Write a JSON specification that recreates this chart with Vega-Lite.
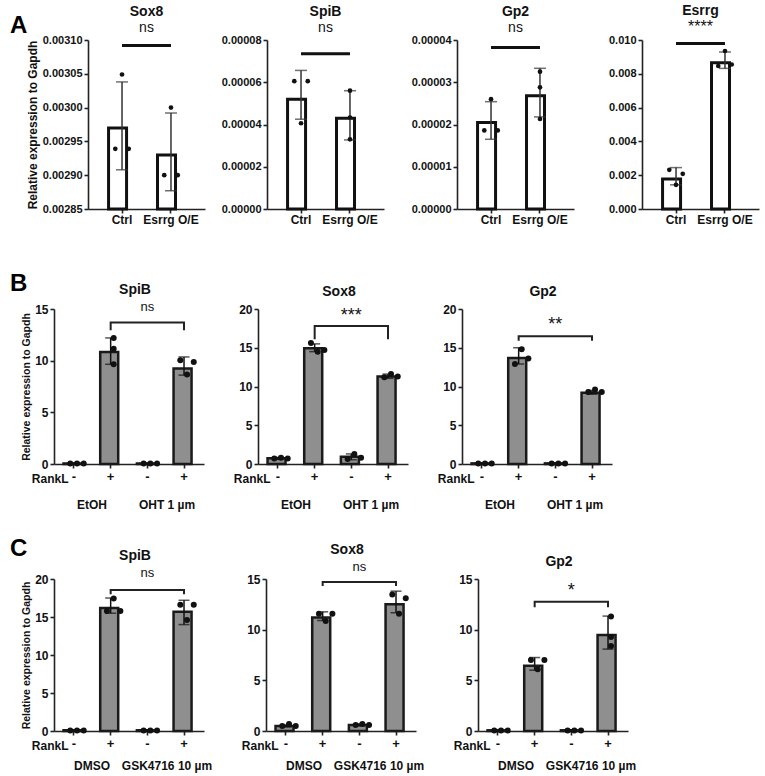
{
  "$schema": "https://vega.github.io/schema/vega-lite/v6.json",
  "padding": {"left": 7, "top": 4, "right": 2, "bottom": 2},
  "background": "white",
  "config": {
    "font": "Liberation Sans",
    "view": {"stroke": null},
    "axis": {"grid": false, "labelOverlap": false, "labelFont": "Liberation Sans", "labelFontWeight": "bold", "labelFontSize": 11, "labelColor": "#111111", "domainColor": "#222222", "domainWidth": 1.6, "tickColor": "#222222", "tickWidth": 1.6, "tickSize": 4, "labelPadding": 2, "titleFont": "Liberation Sans", "titleFontWeight": "bold", "titleColor": "#111111"},
    "axisX": {"labelAngle": 0, "labelFontSize": 12},
    "title": {"font": "Liberation Sans Narrow, Liberation Sans", "fontSize": 14, "fontWeight": "bold", "color": "#111111", "anchor": "middle", "frame": "group", "subtitleFont": "Liberation Sans", "subtitleFontSize": 14, "subtitleColor": "#111111"}
  },
  "datasets": {
    "bars": [
      {"p": "A1", "cond": "Ctrl", "mean": 0.00297, "lo": 0.002908, "hi": 0.003038},
      {"p": "A1", "cond": "Esrrg O/E", "mean": 0.00293, "lo": 0.002877, "hi": 0.002992},
      {"p": "A2", "cond": "Ctrl", "mean": 0.000052, "lo": 0.0000425, "hi": 0.0000656},
      {"p": "A2", "cond": "Esrrg O/E", "mean": 0.0000429, "lo": 0.0000327, "hi": 0.000056},
      {"p": "A3", "cond": "Ctrl", "mean": 0.0000205, "lo": 0.0000165, "hi": 0.0000254},
      {"p": "A3", "cond": "Esrrg O/E", "mean": 0.0000268, "lo": 0.0000218, "hi": 0.0000333},
      {"p": "A4", "cond": "Ctrl", "mean": 0.00178, "lo": 0.00143, "hi": 0.00245},
      {"p": "A4", "cond": "Esrrg O/E", "mean": 0.00865, "lo": 0.00832, "hi": 0.00929},
      {"p": "B1", "cond": "EtOH -", "mean": 0.05, "lo": 0.02, "hi": 0.08},
      {"p": "B1", "cond": "EtOH +", "mean": 10.84, "lo": 9.65, "hi": 12.2},
      {"p": "B1", "cond": "OHT 1 µm -", "mean": 0.05, "lo": 0.02, "hi": 0.08},
      {"p": "B1", "cond": "OHT 1 µm +", "mean": 9.23, "lo": 8.6, "hi": 10.36},
      {"p": "B2", "cond": "EtOH -", "mean": 0.73, "lo": 0.6, "hi": 0.85},
      {"p": "B2", "cond": "EtOH +", "mean": 14.93, "lo": 14.5, "hi": 15.5},
      {"p": "B2", "cond": "OHT 1 µm -", "mean": 0.92, "lo": 0.55, "hi": 1.3},
      {"p": "B2", "cond": "OHT 1 µm +", "mean": 11.3, "lo": 11.05, "hi": 11.6},
      {"p": "B3", "cond": "EtOH -", "mean": 0.08, "lo": 0.05, "hi": 0.11},
      {"p": "B3", "cond": "EtOH +", "mean": 13.68, "lo": 12.9, "hi": 15.0},
      {"p": "B3", "cond": "OHT 1 µm -", "mean": 0.08, "lo": 0.05, "hi": 0.11},
      {"p": "B3", "cond": "OHT 1 µm +", "mean": 9.2, "lo": 9.0, "hi": 9.5},
      {"p": "C1", "cond": "DMSO -", "mean": 0.1, "lo": 0.05, "hi": 0.15},
      {"p": "C1", "cond": "DMSO +", "mean": 16.2, "lo": 15.5, "hi": 17.5},
      {"p": "C1", "cond": "GSK4716 10 µm -", "mean": 0.1, "lo": 0.05, "hi": 0.15},
      {"p": "C1", "cond": "GSK4716 10 µm +", "mean": 15.7, "lo": 14.0, "hi": 17.2},
      {"p": "C2", "cond": "DMSO -", "mean": 0.5, "lo": 0.4, "hi": 0.6},
      {"p": "C2", "cond": "DMSO +", "mean": 11.2, "lo": 10.9, "hi": 11.76},
      {"p": "C2", "cond": "GSK4716 10 µm -", "mean": 0.6, "lo": 0.5, "hi": 0.7},
      {"p": "C2", "cond": "GSK4716 10 µm +", "mean": 12.5, "lo": 11.67, "hi": 13.8},
      {"p": "C3", "cond": "DMSO -", "mean": 0.07, "lo": 0.04, "hi": 0.1},
      {"p": "C3", "cond": "DMSO +", "mean": 6.44, "lo": 6.0, "hi": 7.25},
      {"p": "C3", "cond": "GSK4716 10 µm -", "mean": 0.07, "lo": 0.04, "hi": 0.1},
      {"p": "C3", "cond": "GSK4716 10 µm +", "mean": 9.48, "lo": 8.08, "hi": 11.34}
    ],
    "pts": [
      {"p": "A1", "cond": "Ctrl", "rep": 2, "v": 0.003049},
      {"p": "A1", "cond": "Ctrl", "rep": 1, "v": 0.002939},
      {"p": "A1", "cond": "Ctrl", "rep": 3, "v": 0.002939},
      {"p": "A1", "cond": "Esrrg O/E", "rep": 2, "v": 0.0030},
      {"p": "A1", "cond": "Esrrg O/E", "rep": 1, "v": 0.0029},
      {"p": "A1", "cond": "Esrrg O/E", "rep": 3, "v": 0.0029},
      {"p": "A2", "cond": "Ctrl", "rep": 1, "v": 0.0000605},
      {"p": "A2", "cond": "Ctrl", "rep": 3, "v": 0.0000605},
      {"p": "A2", "cond": "Ctrl", "rep": 2, "v": 0.0000406},
      {"p": "A2", "cond": "Esrrg O/E", "rep": 2, "v": 0.000056},
      {"p": "A2", "cond": "Esrrg O/E", "rep": 2, "v": 0.0000433},
      {"p": "A2", "cond": "Esrrg O/E", "rep": 2, "v": 0.000033},
      {"p": "A3", "cond": "Ctrl", "rep": 2, "v": 0.000026},
      {"p": "A3", "cond": "Ctrl", "rep": 1, "v": 0.0000186},
      {"p": "A3", "cond": "Ctrl", "rep": 3, "v": 0.0000186},
      {"p": "A3", "cond": "Esrrg O/E", "rep": 2, "v": 0.0000325},
      {"p": "A3", "cond": "Esrrg O/E", "rep": 2, "v": 0.0000288},
      {"p": "A3", "cond": "Esrrg O/E", "rep": 2, "v": 0.0000213},
      {"p": "A4", "cond": "Ctrl", "rep": 1, "v": 0.00232},
      {"p": "A4", "cond": "Ctrl", "rep": 3, "v": 0.00208},
      {"p": "A4", "cond": "Ctrl", "rep": 2, "v": 0.00143},
      {"p": "A4", "cond": "Esrrg O/E", "rep": 2, "v": 0.00935},
      {"p": "A4", "cond": "Esrrg O/E", "rep": 1, "v": 0.00846},
      {"p": "A4", "cond": "Esrrg O/E", "rep": 3, "v": 0.00855},
      {"p": "B1", "cond": "EtOH -", "rep": 1, "v": 0.05},
      {"p": "B1", "cond": "EtOH -", "rep": 2, "v": 0.05},
      {"p": "B1", "cond": "EtOH -", "rep": 3, "v": 0.05},
      {"p": "B1", "cond": "EtOH +", "rep": 2, "v": 12.2},
      {"p": "B1", "cond": "EtOH +", "rep": 2, "v": 11.16},
      {"p": "B1", "cond": "EtOH +", "rep": 2, "v": 9.65},
      {"p": "B1", "cond": "OHT 1 µm -", "rep": 1, "v": 0.05},
      {"p": "B1", "cond": "OHT 1 µm -", "rep": 2, "v": 0.05},
      {"p": "B1", "cond": "OHT 1 µm -", "rep": 3, "v": 0.05},
      {"p": "B1", "cond": "OHT 1 µm +", "rep": 1, "v": 10.04},
      {"p": "B1", "cond": "OHT 1 µm +", "rep": 3, "v": 9.87},
      {"p": "B1", "cond": "OHT 1 µm +", "rep": 2, "v": 8.65},
      {"p": "B2", "cond": "EtOH -", "rep": 1, "v": 0.7},
      {"p": "B2", "cond": "EtOH -", "rep": 2, "v": 0.8},
      {"p": "B2", "cond": "EtOH -", "rep": 3, "v": 0.7},
      {"p": "B2", "cond": "EtOH +", "rep": 1, "v": 15.6},
      {"p": "B2", "cond": "EtOH +", "rep": 2, "v": 14.5},
      {"p": "B2", "cond": "EtOH +", "rep": 3, "v": 14.7},
      {"p": "B2", "cond": "OHT 1 µm -", "rep": 1, "v": 0.65},
      {"p": "B2", "cond": "OHT 1 µm -", "rep": 2, "v": 1.3},
      {"p": "B2", "cond": "OHT 1 µm -", "rep": 3, "v": 0.8},
      {"p": "B2", "cond": "OHT 1 µm +", "rep": 1, "v": 11.2},
      {"p": "B2", "cond": "OHT 1 µm +", "rep": 2, "v": 11.6},
      {"p": "B2", "cond": "OHT 1 µm +", "rep": 3, "v": 11.3},
      {"p": "B3", "cond": "EtOH -", "rep": 1, "v": 0.05},
      {"p": "B3", "cond": "EtOH -", "rep": 2, "v": 0.05},
      {"p": "B3", "cond": "EtOH -", "rep": 3, "v": 0.05},
      {"p": "B3", "cond": "EtOH +", "rep": 2, "v": 14.8},
      {"p": "B3", "cond": "EtOH +", "rep": 3, "v": 13.6},
      {"p": "B3", "cond": "EtOH +", "rep": 1, "v": 12.9},
      {"p": "B3", "cond": "OHT 1 µm -", "rep": 1, "v": 0.05},
      {"p": "B3", "cond": "OHT 1 µm -", "rep": 2, "v": 0.05},
      {"p": "B3", "cond": "OHT 1 µm -", "rep": 3, "v": 0.05},
      {"p": "B3", "cond": "OHT 1 µm +", "rep": 1, "v": 9.3},
      {"p": "B3", "cond": "OHT 1 µm +", "rep": 2, "v": 9.6},
      {"p": "B3", "cond": "OHT 1 µm +", "rep": 3, "v": 9.3},
      {"p": "C1", "cond": "DMSO -", "rep": 1, "v": 0.05},
      {"p": "C1", "cond": "DMSO -", "rep": 2, "v": 0.05},
      {"p": "C1", "cond": "DMSO -", "rep": 3, "v": 0.05},
      {"p": "C1", "cond": "DMSO +", "rep": 2, "v": 17.45},
      {"p": "C1", "cond": "DMSO +", "rep": 1, "v": 15.8},
      {"p": "C1", "cond": "DMSO +", "rep": 3, "v": 15.8},
      {"p": "C1", "cond": "GSK4716 10 µm -", "rep": 1, "v": 0.05},
      {"p": "C1", "cond": "GSK4716 10 µm -", "rep": 2, "v": 0.05},
      {"p": "C1", "cond": "GSK4716 10 µm -", "rep": 3, "v": 0.05},
      {"p": "C1", "cond": "GSK4716 10 µm +", "rep": 1, "v": 16.6},
      {"p": "C1", "cond": "GSK4716 10 µm +", "rep": 3, "v": 16.6},
      {"p": "C1", "cond": "GSK4716 10 µm +", "rep": 2, "v": 14.6},
      {"p": "C2", "cond": "DMSO -", "rep": 1, "v": 0.5},
      {"p": "C2", "cond": "DMSO -", "rep": 2, "v": 0.7},
      {"p": "C2", "cond": "DMSO -", "rep": 3, "v": 0.5},
      {"p": "C2", "cond": "DMSO +", "rep": 1, "v": 11.57},
      {"p": "C2", "cond": "DMSO +", "rep": 3, "v": 11.57},
      {"p": "C2", "cond": "DMSO +", "rep": 2, "v": 10.85},
      {"p": "C2", "cond": "GSK4716 10 µm -", "rep": 1, "v": 0.6},
      {"p": "C2", "cond": "GSK4716 10 µm -", "rep": 2, "v": 0.7},
      {"p": "C2", "cond": "GSK4716 10 µm -", "rep": 3, "v": 0.6},
      {"p": "C2", "cond": "GSK4716 10 µm +", "rep": 1, "v": 13.47},
      {"p": "C2", "cond": "GSK4716 10 µm +", "rep": 3, "v": 13.1},
      {"p": "C2", "cond": "GSK4716 10 µm +", "rep": 2, "v": 11.57},
      {"p": "C3", "cond": "DMSO -", "rep": 1, "v": 0.05},
      {"p": "C3", "cond": "DMSO -", "rep": 2, "v": 0.05},
      {"p": "C3", "cond": "DMSO -", "rep": 3, "v": 0.05},
      {"p": "C3", "cond": "DMSO +", "rep": 1, "v": 7.0},
      {"p": "C3", "cond": "DMSO +", "rep": 3, "v": 7.0},
      {"p": "C3", "cond": "DMSO +", "rep": 2, "v": 6.1},
      {"p": "C3", "cond": "GSK4716 10 µm -", "rep": 1, "v": 0.05},
      {"p": "C3", "cond": "GSK4716 10 µm -", "rep": 2, "v": 0.05},
      {"p": "C3", "cond": "GSK4716 10 µm -", "rep": 3, "v": 0.05},
      {"p": "C3", "cond": "GSK4716 10 µm +", "rep": 2, "v": 11.3},
      {"p": "C3", "cond": "GSK4716 10 µm +", "rep": 2, "v": 9.28},
      {"p": "C3", "cond": "GSK4716 10 µm +", "rep": 2, "v": 8.4}
    ],
    "sigA": [
      {"p": "A1", "cond": "Ctrl", "cond2": "Esrrg O/E", "y": 0.003092},
      {"p": "A2", "cond": "Ctrl", "cond2": "Esrrg O/E", "y": 0.0000735},
      {"p": "A3", "cond": "Ctrl", "cond2": "Esrrg O/E", "y": 0.0000382},
      {"p": "A4", "cond": "Ctrl", "cond2": "Esrrg O/E", "y": 0.0098}
    ],
    "brk": [
      {"p": "B1", "cond": "EtOH +", "y": 12.95, "k": 1},
      {"p": "B1", "cond": "EtOH +", "y": 13.7, "k": 2},
      {"p": "B1", "cond": "OHT 1 µm +", "y": 13.7, "k": 3},
      {"p": "B1", "cond": "OHT 1 µm +", "y": 12.95, "k": 4},
      {"p": "B2", "cond": "EtOH +", "y": 16.1, "k": 1},
      {"p": "B2", "cond": "EtOH +", "y": 17.8, "k": 2},
      {"p": "B2", "cond": "OHT 1 µm +", "y": 17.8, "k": 3},
      {"p": "B2", "cond": "OHT 1 µm +", "y": 16.1, "k": 4},
      {"p": "B3", "cond": "EtOH +", "y": 15.9, "k": 1},
      {"p": "B3", "cond": "EtOH +", "y": 16.5, "k": 2},
      {"p": "B3", "cond": "OHT 1 µm +", "y": 16.5, "k": 3},
      {"p": "B3", "cond": "OHT 1 µm +", "y": 15.9, "k": 4},
      {"p": "C1", "cond": "DMSO +", "y": 18.0, "k": 1},
      {"p": "C1", "cond": "DMSO +", "y": 18.55, "k": 2},
      {"p": "C1", "cond": "GSK4716 10 µm +", "y": 18.55, "k": 3},
      {"p": "C1", "cond": "GSK4716 10 µm +", "y": 18.0, "k": 4},
      {"p": "C2", "cond": "DMSO +", "y": 14.3, "k": 1},
      {"p": "C2", "cond": "DMSO +", "y": 14.7, "k": 2},
      {"p": "C2", "cond": "GSK4716 10 µm +", "y": 14.7, "k": 3},
      {"p": "C2", "cond": "GSK4716 10 µm +", "y": 14.3, "k": 4},
      {"p": "C3", "cond": "DMSO +", "y": 12.2, "k": 1},
      {"p": "C3", "cond": "DMSO +", "y": 12.75, "k": 2},
      {"p": "C3", "cond": "GSK4716 10 µm +", "y": 12.75, "k": 3},
      {"p": "C3", "cond": "GSK4716 10 µm +", "y": 12.2, "k": 4}
    ],
    "sig": [
      {"p": "B1", "cond": "OHT 1 µm -", "y": 15.2, "t": "ns"},
      {"p": "B2", "cond": "OHT 1 µm -", "y": 19.1, "t": "***"},
      {"p": "B3", "cond": "OHT 1 µm -", "y": 18.0, "t": "**"},
      {"p": "C1", "cond": "GSK4716 10 µm -", "y": 20.8, "t": "ns"},
      {"p": "C2", "cond": "GSK4716 10 µm -", "y": 16.2, "t": "ns"},
      {"p": "C3", "cond": "GSK4716 10 µm -", "y": 13.8, "t": "*"}
    ]
  },
  "columns": 1,
  "align": "none",
  "spacing": 47,
  "concat": [
    {
      "columns": 2,
      "align": {"row": "all", "column": "none"},
      "spacing": -2,
      "concat": [
        {"width": 1, "height": 10, "data": {"values": [{}]}, "mark": {"type": "point", "opacity": 0},
         "title": {"text": "A", "anchor": "start", "frame": "group", "align": "left", "fontSize": 24, "fontWeight": "bold", "font": "Liberation Sans", "color": "#000000", "baseline": "top", "offset": 1.8}},
        {
          "columns": 4,
          "align": {"row": "all", "column": "none"},
          "spacing": 16,
          "concat": [
            {
              "width": 117, "height": 169,
              "title": {"text": "Sox8", "subtitle": "ns", "offset": -1, "subtitlePadding": 2},
              "layer": [
                {"data": {"name": "bars"}, "transform": [{"filter": "datum.p === 'A1'"}],
                 "mark": {"type": "bar", "fill": "#ffffff", "stroke": "#111111", "strokeWidth": 3},
                 "encoding": {
                   "x": {"field": "cond", "type": "nominal", "sort": ["Ctrl", "Esrrg O/E"], "scale": {"paddingInner": 0.45, "paddingOuter": 0.42}, "axis": {"title": null, "labelPadding": 1}},
                   "y": {"field": "mean", "type": "quantitative", "scale": {"domain": [0.00285, 0.0031], "nice": false, "zero": false}, "title": "Relative expression to Gapdh", "axis": {"values": [0.00285, 0.0029, 0.00295, 0.003, 0.00305, 0.0031], "tickCount": 12, "format": ".5f", "labelOverlap": false, "titleFontSize": 12, "titlePadding": 3}},
                   "y2": {"datum": 0.00285}
                 }},
                {"data": {"name": "bars"}, "transform": [{"filter": "datum.p === 'A1'"}],
                 "mark": {"type": "errorbar", "ticks": {"size": 12, "color": "#333333", "thickness": 1.5}, "rule": {"color": "#333333", "strokeWidth": 1.5}},
                 "encoding": {
                   "x": {"field": "cond", "type": "nominal", "sort": ["Ctrl", "Esrrg O/E"]},
                   "y": {"field": "lo", "type": "quantitative", "title": "Relative expression to Gapdh"}, "y2": {"field": "hi"}
                 }},
                {"data": {"name": "pts"}, "transform": [{"filter": "datum.p === 'A1'"}],
                 "mark": {"type": "circle", "size": 22, "color": "#111111", "opacity": 1},
                 "encoding": {
                   "x": {"field": "cond", "type": "nominal", "sort": ["Ctrl", "Esrrg O/E"]},
                   "xOffset": {"field": "rep", "type": "nominal", "scale": {"paddingInner": 0, "paddingOuter": 1.37}},
                   "y": {"field": "v", "type": "quantitative", "title": "Relative expression to Gapdh"}
                 }},
                {"data": {"name": "sigA"}, "transform": [{"filter": "datum.p === 'A1'"}],
                 "mark": {"type": "rule", "color": "#111111", "strokeWidth": 3},
                 "encoding": {
                   "x": {"field": "cond", "type": "nominal", "sort": ["Ctrl", "Esrrg O/E"]},
                   "x2": {"field": "cond2"},
                   "y": {"field": "y", "type": "quantitative", "title": "Relative expression to Gapdh"}
                 }}
              ]
            },
            {
              "width": 117, "height": 169,
              "title": {"text": "SpiB", "subtitle": "ns", "offset": -1, "subtitlePadding": 2},
              "layer": [
                {"data": {"name": "bars"}, "transform": [{"filter": "datum.p === 'A2'"}],
                 "mark": {"type": "bar", "fill": "#ffffff", "stroke": "#111111", "strokeWidth": 3},
                 "encoding": {
                   "x": {"field": "cond", "type": "nominal", "sort": ["Ctrl", "Esrrg O/E"], "scale": {"paddingInner": 0.45, "paddingOuter": 0.42}, "axis": {"title": null, "labelPadding": 1}},
                   "y": {"field": "mean", "type": "quantitative", "scale": {"domain": [0, 0.00008], "nice": false}, "axis": {"values": [0, 0.00002, 0.00004, 0.00006, 0.00008], "tickCount": 12, "format": ".5f", "labelOverlap": false, "title": null}}
                 }},
                {"data": {"name": "bars"}, "transform": [{"filter": "datum.p === 'A2'"}],
                 "mark": {"type": "errorbar", "ticks": {"size": 12, "color": "#333333", "thickness": 1.5}, "rule": {"color": "#333333", "strokeWidth": 1.5}},
                 "encoding": {
                   "x": {"field": "cond", "type": "nominal", "sort": ["Ctrl", "Esrrg O/E"]},
                   "y": {"field": "lo", "type": "quantitative"}, "y2": {"field": "hi"}
                 }},
                {"data": {"name": "pts"}, "transform": [{"filter": "datum.p === 'A2'"}],
                 "mark": {"type": "circle", "size": 22, "color": "#111111", "opacity": 1},
                 "encoding": {
                   "x": {"field": "cond", "type": "nominal", "sort": ["Ctrl", "Esrrg O/E"]},
                   "xOffset": {"field": "rep", "type": "nominal", "scale": {"paddingInner": 0, "paddingOuter": 1.37}},
                   "y": {"field": "v", "type": "quantitative"}
                 }},
                {"data": {"name": "sigA"}, "transform": [{"filter": "datum.p === 'A2'"}],
                 "mark": {"type": "rule", "color": "#111111", "strokeWidth": 3},
                 "encoding": {
                   "x": {"field": "cond", "type": "nominal", "sort": ["Ctrl", "Esrrg O/E"]},
                   "x2": {"field": "cond2"},
                   "y": {"field": "y", "type": "quantitative"}
                 }}
              ]
            },
            {
              "width": 117, "height": 169,
              "title": {"text": "Gp2", "subtitle": "ns", "offset": -1, "subtitlePadding": 2},
              "layer": [
                {"data": {"name": "bars"}, "transform": [{"filter": "datum.p === 'A3'"}],
                 "mark": {"type": "bar", "fill": "#ffffff", "stroke": "#111111", "strokeWidth": 3},
                 "encoding": {
                   "x": {"field": "cond", "type": "nominal", "sort": ["Ctrl", "Esrrg O/E"], "scale": {"paddingInner": 0.45, "paddingOuter": 0.42}, "axis": {"title": null, "labelPadding": 1}},
                   "y": {"field": "mean", "type": "quantitative", "scale": {"domain": [0, 0.00004], "nice": false}, "axis": {"values": [0, 0.00001, 0.00002, 0.00003, 0.00004], "tickCount": 12, "format": ".5f", "labelOverlap": false, "title": null, "minExtent": 57}}
                 }},
                {"data": {"name": "bars"}, "transform": [{"filter": "datum.p === 'A3'"}],
                 "mark": {"type": "errorbar", "ticks": {"size": 12, "color": "#333333", "thickness": 1.5}, "rule": {"color": "#333333", "strokeWidth": 1.5}},
                 "encoding": {
                   "x": {"field": "cond", "type": "nominal", "sort": ["Ctrl", "Esrrg O/E"]},
                   "y": {"field": "lo", "type": "quantitative"}, "y2": {"field": "hi"}
                 }},
                {"data": {"name": "pts"}, "transform": [{"filter": "datum.p === 'A3'"}],
                 "mark": {"type": "circle", "size": 22, "color": "#111111", "opacity": 1},
                 "encoding": {
                   "x": {"field": "cond", "type": "nominal", "sort": ["Ctrl", "Esrrg O/E"]},
                   "xOffset": {"field": "rep", "type": "nominal", "scale": {"paddingInner": 0, "paddingOuter": 1.37}},
                   "y": {"field": "v", "type": "quantitative"}
                 }},
                {"data": {"name": "sigA"}, "transform": [{"filter": "datum.p === 'A3'"}],
                 "mark": {"type": "rule", "color": "#111111", "strokeWidth": 3},
                 "encoding": {
                   "x": {"field": "cond", "type": "nominal", "sort": ["Ctrl", "Esrrg O/E"]},
                   "x2": {"field": "cond2"},
                   "y": {"field": "y", "type": "quantitative"}
                 }}
              ]
            },
            {
              "width": 117, "height": 169,
              "title": {"text": "Esrrg", "subtitle": "****", "offset": -1, "subtitlePadding": 1, "subtitleFontSize": 16},
              "layer": [
                {"data": {"name": "bars"}, "transform": [{"filter": "datum.p === 'A4'"}],
                 "mark": {"type": "bar", "fill": "#ffffff", "stroke": "#111111", "strokeWidth": 3},
                 "encoding": {
                   "x": {"field": "cond", "type": "nominal", "sort": ["Ctrl", "Esrrg O/E"], "scale": {"paddingInner": 0.45, "paddingOuter": 0.42}, "axis": {"title": null, "labelPadding": 1}},
                   "y": {"field": "mean", "type": "quantitative", "scale": {"domain": [0, 0.01], "nice": false}, "axis": {"values": [0, 0.002, 0.004, 0.006, 0.008, 0.01], "tickCount": 12, "format": ".3f", "labelOverlap": false, "title": null, "minExtent": 52}}
                 }},
                {"data": {"name": "bars"}, "transform": [{"filter": "datum.p === 'A4'"}],
                 "mark": {"type": "errorbar", "ticks": {"size": 12, "color": "#333333", "thickness": 1.5}, "rule": {"color": "#333333", "strokeWidth": 1.5}},
                 "encoding": {
                   "x": {"field": "cond", "type": "nominal", "sort": ["Ctrl", "Esrrg O/E"]},
                   "y": {"field": "lo", "type": "quantitative"}, "y2": {"field": "hi"}
                 }},
                {"data": {"name": "pts"}, "transform": [{"filter": "datum.p === 'A4'"}],
                 "mark": {"type": "circle", "size": 22, "color": "#111111", "opacity": 1},
                 "encoding": {
                   "x": {"field": "cond", "type": "nominal", "sort": ["Ctrl", "Esrrg O/E"]},
                   "xOffset": {"field": "rep", "type": "nominal", "scale": {"paddingInner": 0, "paddingOuter": 1.37}},
                   "y": {"field": "v", "type": "quantitative"}
                 }},
                {"data": {"name": "sigA"}, "transform": [{"filter": "datum.p === 'A4'"}],
                 "mark": {"type": "rule", "color": "#111111", "strokeWidth": 3},
                 "encoding": {
                   "x": {"field": "cond", "type": "nominal", "sort": ["Ctrl", "Esrrg O/E"]},
                   "x2": {"field": "cond2"},
                   "y": {"field": "y", "type": "quantitative"}
                 }}
              ]
            }
          ]
        }
      ]
    },
    {
      "columns": 1,
      "align": "none",
      "spacing": 27,
      "concat": [
        {
          "columns": 2,
          "align": {"row": "all", "column": "none"},
          "spacing": -7,
          "concat": [
            {"width": 1, "height": 10, "data": {"values": [{}]}, "mark": {"type": "point", "opacity": 0},
             "title": {"text": "B", "anchor": "start", "frame": "group", "align": "left", "fontSize": 24, "fontWeight": "bold", "font": "Liberation Sans", "color": "#000000", "baseline": "top", "offset": 12.8}},
            {
              "columns": 3,
              "align": {"row": "all", "column": "none"},
              "spacing": 29,
              "concat": [
                {
                  "width": 150, "height": 155,
                  "title": {"text": "SpiB", "offset": 4, "dx": 6},
                  "resolve": {"scale": {"x": "independent"}, "axis": {"x": "independent"}},
                  "layer": [
                    {"data": {"values": [{"g": "EtOH"}, {"g": "OHT 1 µm"}]},
                     "mark": {"type": "point", "opacity": 0},
                     "encoding": {"x": {"field": "g", "type": "nominal", "axis": {"orient": "bottom", "offset": 32, "domain": false, "ticks": false, "title": null, "labelFontSize": 12, "labelPadding": 3}}}},
                    {"layer": [
                      {"data": {"name": "bars"}, "transform": [{"filter": "datum.p === 'B1'"}],
                       "mark": {"type": "bar", "fill": "#8f8f8f", "stroke": "#1a1a1a", "strokeWidth": 2.5},
                       "encoding": {
                         "x": {"field": "cond", "type": "nominal", "sort": ["EtOH -", "EtOH +", "OHT 1 µm -", "OHT 1 µm +"], "scale": {"paddingInner": 0.43, "paddingOuter": 0.26}, "title": "RankL", "axis": {"orient": "bottom", "titleX": 14, "titleY": 14, "titleAlign": "right", "titleBaseline": "middle", "titleAngle": 0, "titleFontSize": 12, "labelExpr": "slice(datum.label, -1)", "labelFontSize": 13, "labelPadding": 2}},
                         "y": {"field": "mean", "type": "quantitative", "scale": {"domain": [0, 15], "nice": false}, "title": "Relative expression to Gapdh", "axis": {"values": [0, 5, 10, 15], "tickCount": 12, "labelOverlap": false, "labelFontSize": 12, "titleFontSize": 10.5, "titlePadding": 3}}
                       }},
                      {"data": {"name": "bars"}, "transform": [{"filter": "datum.p === 'B1'"}],
                       "mark": {"type": "errorbar", "ticks": {"size": 11, "color": "#111111", "thickness": 1.5}, "rule": {"color": "#111111", "strokeWidth": 1.5}},
                       "encoding": {
                         "x": {"field": "cond", "type": "nominal", "sort": ["EtOH -", "EtOH +", "OHT 1 µm -", "OHT 1 µm +"], "title": "RankL"},
                         "y": {"field": "lo", "type": "quantitative", "title": "Relative expression to Gapdh"}, "y2": {"field": "hi"}
                       }},
                      {"data": {"name": "pts"}, "transform": [{"filter": "datum.p === 'B1'"}],
                       "mark": {"type": "circle", "size": 36, "color": "#111111", "opacity": 1},
                       "encoding": {
                         "x": {"field": "cond", "type": "nominal", "sort": ["EtOH -", "EtOH +", "OHT 1 µm -", "OHT 1 µm +"], "title": "RankL"},
                         "xOffset": {"field": "rep", "type": "nominal", "scale": {"paddingInner": 0.79, "paddingOuter": 0}},
                         "y": {"field": "v", "type": "quantitative", "title": "Relative expression to Gapdh"}
                       }},
                      {"data": {"name": "brk"}, "transform": [{"filter": "datum.p === 'B1'"}],
                       "mark": {"type": "line", "color": "#222222", "strokeWidth": 2},
                       "encoding": {
                         "x": {"field": "cond", "type": "nominal", "sort": ["EtOH -", "EtOH +", "OHT 1 µm -", "OHT 1 µm +"], "title": "RankL"},
                         "y": {"field": "y", "type": "quantitative", "title": "Relative expression to Gapdh"},
                         "order": {"field": "k"}
                       }},
                      {"data": {"name": "sig"}, "transform": [{"filter": "datum.p === 'B1'"}],
                       "mark": {"type": "text", "fontSize": 13, "font": "Liberation Sans", "baseline": "middle", "color": "#111111"},
                       "encoding": {
                         "x": {"field": "cond", "type": "nominal", "sort": ["EtOH -", "EtOH +", "OHT 1 µm -", "OHT 1 µm +"], "title": "RankL"},
                         "y": {"field": "y", "type": "quantitative", "title": "Relative expression to Gapdh"},
                         "text": {"field": "t"}
                       }}
                    ]}
                  ]
                },
                {
                  "width": 150, "height": 155,
                  "title": {"text": "Sox8", "offset": 4, "dx": 6},
                  "resolve": {"scale": {"x": "independent"}, "axis": {"x": "independent"}},
                  "layer": [
                    {"data": {"values": [{"g": "EtOH"}, {"g": "OHT 1 µm"}]},
                     "mark": {"type": "point", "opacity": 0},
                     "encoding": {"x": {"field": "g", "type": "nominal", "axis": {"orient": "bottom", "offset": 32, "domain": false, "ticks": false, "title": null, "labelFontSize": 12, "labelPadding": 3}}}},
                    {"layer": [
                      {"data": {"name": "bars"}, "transform": [{"filter": "datum.p === 'B2'"}],
                       "mark": {"type": "bar", "fill": "#8f8f8f", "stroke": "#1a1a1a", "strokeWidth": 2.5},
                       "encoding": {
                         "x": {"field": "cond", "type": "nominal", "sort": ["EtOH -", "EtOH +", "OHT 1 µm -", "OHT 1 µm +"], "scale": {"paddingInner": 0.43, "paddingOuter": 0.26}, "axis": {"orient": "bottom", "title": "RankL", "titleX": 12, "titleY": 14, "titleAlign": "right", "titleBaseline": "middle", "titleAngle": 0, "titleFontSize": 12, "labelExpr": "slice(datum.label, -1)", "labelFontSize": 13, "labelPadding": 2}},
                         "y": {"field": "mean", "type": "quantitative", "scale": {"domain": [0, 20], "nice": false}, "axis": {"values": [0, 5, 10, 15, 20], "tickCount": 12, "labelOverlap": false, "labelFontSize": 12, "title": null}}
                       }},
                      {"data": {"name": "bars"}, "transform": [{"filter": "datum.p === 'B2'"}],
                       "mark": {"type": "errorbar", "ticks": {"size": 11, "color": "#111111", "thickness": 1.5}, "rule": {"color": "#111111", "strokeWidth": 1.5}},
                       "encoding": {
                         "x": {"field": "cond", "type": "nominal", "sort": ["EtOH -", "EtOH +", "OHT 1 µm -", "OHT 1 µm +"]},
                         "y": {"field": "lo", "type": "quantitative"}, "y2": {"field": "hi"}
                       }},
                      {"data": {"name": "pts"}, "transform": [{"filter": "datum.p === 'B2'"}],
                       "mark": {"type": "circle", "size": 36, "color": "#111111", "opacity": 1},
                       "encoding": {
                         "x": {"field": "cond", "type": "nominal", "sort": ["EtOH -", "EtOH +", "OHT 1 µm -", "OHT 1 µm +"]},
                         "xOffset": {"field": "rep", "type": "nominal", "scale": {"paddingInner": 0.79, "paddingOuter": 0}},
                         "y": {"field": "v", "type": "quantitative"}
                       }},
                      {"data": {"name": "brk"}, "transform": [{"filter": "datum.p === 'B2'"}],
                       "mark": {"type": "line", "color": "#222222", "strokeWidth": 2},
                       "encoding": {
                         "x": {"field": "cond", "type": "nominal", "sort": ["EtOH -", "EtOH +", "OHT 1 µm -", "OHT 1 µm +"]},
                         "y": {"field": "y", "type": "quantitative"},
                         "order": {"field": "k"}
                       }},
                      {"data": {"name": "sig"}, "transform": [{"filter": "datum.p === 'B2'"}],
                       "mark": {"type": "text", "fontSize": 18, "font": "Liberation Sans", "baseline": "middle", "color": "#111111"},
                       "encoding": {
                         "x": {"field": "cond", "type": "nominal", "sort": ["EtOH -", "EtOH +", "OHT 1 µm -", "OHT 1 µm +"]},
                         "y": {"field": "y", "type": "quantitative"},
                         "text": {"field": "t"}
                       }}
                    ]}
                  ]
                },
                {
                  "width": 150, "height": 155,
                  "title": {"text": "Gp2", "offset": 4, "dx": 6},
                  "resolve": {"scale": {"x": "independent"}, "axis": {"x": "independent"}},
                  "layer": [
                    {"data": {"values": [{"g": "EtOH"}, {"g": "OHT 1 µm"}]},
                     "mark": {"type": "point", "opacity": 0},
                     "encoding": {"x": {"field": "g", "type": "nominal", "axis": {"orient": "bottom", "offset": 32, "domain": false, "ticks": false, "title": null, "labelFontSize": 12, "labelPadding": 3}}}},
                    {"layer": [
                      {"data": {"name": "bars"}, "transform": [{"filter": "datum.p === 'B3'"}],
                       "mark": {"type": "bar", "fill": "#8f8f8f", "stroke": "#1a1a1a", "strokeWidth": 2.5},
                       "encoding": {
                         "x": {"field": "cond", "type": "nominal", "sort": ["EtOH -", "EtOH +", "OHT 1 µm -", "OHT 1 µm +"], "scale": {"paddingInner": 0.43, "paddingOuter": 0.26}, "axis": {"orient": "bottom", "title": "RankL", "titleX": 12, "titleY": 14, "titleAlign": "right", "titleBaseline": "middle", "titleAngle": 0, "titleFontSize": 12, "labelExpr": "slice(datum.label, -1)", "labelFontSize": 13, "labelPadding": 2}},
                         "y": {"field": "mean", "type": "quantitative", "scale": {"domain": [0, 20], "nice": false}, "axis": {"values": [0, 5, 10, 15, 20], "tickCount": 12, "labelOverlap": false, "labelFontSize": 12, "title": null}}
                       }},
                      {"data": {"name": "bars"}, "transform": [{"filter": "datum.p === 'B3'"}],
                       "mark": {"type": "errorbar", "ticks": {"size": 11, "color": "#111111", "thickness": 1.5}, "rule": {"color": "#111111", "strokeWidth": 1.5}},
                       "encoding": {
                         "x": {"field": "cond", "type": "nominal", "sort": ["EtOH -", "EtOH +", "OHT 1 µm -", "OHT 1 µm +"]},
                         "y": {"field": "lo", "type": "quantitative"}, "y2": {"field": "hi"}
                       }},
                      {"data": {"name": "pts"}, "transform": [{"filter": "datum.p === 'B3'"}],
                       "mark": {"type": "circle", "size": 36, "color": "#111111", "opacity": 1},
                       "encoding": {
                         "x": {"field": "cond", "type": "nominal", "sort": ["EtOH -", "EtOH +", "OHT 1 µm -", "OHT 1 µm +"]},
                         "xOffset": {"field": "rep", "type": "nominal", "scale": {"paddingInner": 0.79, "paddingOuter": 0}},
                         "y": {"field": "v", "type": "quantitative"}
                       }},
                      {"data": {"name": "brk"}, "transform": [{"filter": "datum.p === 'B3'"}],
                       "mark": {"type": "line", "color": "#222222", "strokeWidth": 2},
                       "encoding": {
                         "x": {"field": "cond", "type": "nominal", "sort": ["EtOH -", "EtOH +", "OHT 1 µm -", "OHT 1 µm +"]},
                         "y": {"field": "y", "type": "quantitative"},
                         "order": {"field": "k"}
                       }},
                      {"data": {"name": "sig"}, "transform": [{"filter": "datum.p === 'B3'"}],
                       "mark": {"type": "text", "fontSize": 18, "font": "Liberation Sans", "baseline": "middle", "color": "#111111"},
                       "encoding": {
                         "x": {"field": "cond", "type": "nominal", "sort": ["EtOH -", "EtOH +", "OHT 1 µm -", "OHT 1 µm +"]},
                         "y": {"field": "y", "type": "quantitative"},
                         "text": {"field": "t"}
                       }}
                    ]}
                  ]
                }
              ]
            }
          ]
        },
        {
          "columns": 2,
          "align": {"row": "all", "column": "none"},
          "spacing": -7,
          "concat": [
            {"width": 1, "height": 10, "data": {"values": [{}]}, "mark": {"type": "point", "opacity": 0},
             "title": {"text": "C", "anchor": "start", "frame": "group", "align": "left", "fontSize": 24, "fontWeight": "bold", "font": "Liberation Sans", "color": "#000000", "baseline": "top", "offset": 17.8}},
            {
              "columns": 3,
              "align": {"row": "all", "column": "none"},
              "spacing": 29,
              "concat": [
                {
                  "width": 150, "height": 152,
                  "title": {"text": "SpiB", "offset": 4, "dx": 6},
                  "resolve": {"scale": {"x": "independent"}, "axis": {"x": "independent"}},
                  "layer": [
                    {"data": {"values": [{"g": "DMSO"}, {"g": "GSK4716 10 µm"}]},
                     "mark": {"type": "point", "opacity": 0},
                     "encoding": {"x": {"field": "g", "type": "nominal", "axis": {"orient": "bottom", "offset": 26, "domain": false, "ticks": false, "title": null, "labelFontSize": 12, "labelPadding": 3}}}},
                    {"layer": [
                      {"data": {"name": "bars"}, "transform": [{"filter": "datum.p === 'C1'"}],
                       "mark": {"type": "bar", "fill": "#8f8f8f", "stroke": "#1a1a1a", "strokeWidth": 2.5},
                       "encoding": {
                         "x": {"field": "cond", "type": "nominal", "sort": ["DMSO -", "DMSO +", "GSK4716 10 µm -", "GSK4716 10 µm +"], "scale": {"paddingInner": 0.43, "paddingOuter": 0.26}, "title": "RankL", "axis": {"orient": "bottom", "titleX": 14, "titleY": 14, "titleAlign": "right", "titleBaseline": "middle", "titleAngle": 0, "titleFontSize": 12, "labelExpr": "slice(datum.label, -1)", "labelFontSize": 13, "labelPadding": 2}},
                         "y": {"field": "mean", "type": "quantitative", "scale": {"domain": [0, 20], "nice": false}, "title": "Relative expression to Gapdh", "axis": {"values": [0, 5, 10, 15, 20], "tickCount": 12, "labelOverlap": false, "labelFontSize": 12, "titleFontSize": 10.5, "titlePadding": 3}}
                       }},
                      {"data": {"name": "bars"}, "transform": [{"filter": "datum.p === 'C1'"}],
                       "mark": {"type": "errorbar", "ticks": {"size": 11, "color": "#111111", "thickness": 1.5}, "rule": {"color": "#111111", "strokeWidth": 1.5}},
                       "encoding": {
                         "x": {"field": "cond", "type": "nominal", "sort": ["DMSO -", "DMSO +", "GSK4716 10 µm -", "GSK4716 10 µm +"], "title": "RankL"},
                         "y": {"field": "lo", "type": "quantitative", "title": "Relative expression to Gapdh"}, "y2": {"field": "hi"}
                       }},
                      {"data": {"name": "pts"}, "transform": [{"filter": "datum.p === 'C1'"}],
                       "mark": {"type": "circle", "size": 36, "color": "#111111", "opacity": 1},
                       "encoding": {
                         "x": {"field": "cond", "type": "nominal", "sort": ["DMSO -", "DMSO +", "GSK4716 10 µm -", "GSK4716 10 µm +"], "title": "RankL"},
                         "xOffset": {"field": "rep", "type": "nominal", "scale": {"paddingInner": 0.79, "paddingOuter": 0}},
                         "y": {"field": "v", "type": "quantitative", "title": "Relative expression to Gapdh"}
                       }},
                      {"data": {"name": "brk"}, "transform": [{"filter": "datum.p === 'C1'"}],
                       "mark": {"type": "line", "color": "#222222", "strokeWidth": 2},
                       "encoding": {
                         "x": {"field": "cond", "type": "nominal", "sort": ["DMSO -", "DMSO +", "GSK4716 10 µm -", "GSK4716 10 µm +"], "title": "RankL"},
                         "y": {"field": "y", "type": "quantitative", "title": "Relative expression to Gapdh"},
                         "order": {"field": "k"}
                       }},
                      {"data": {"name": "sig"}, "transform": [{"filter": "datum.p === 'C1'"}],
                       "mark": {"type": "text", "fontSize": 13, "font": "Liberation Sans", "baseline": "middle", "color": "#111111"},
                       "encoding": {
                         "x": {"field": "cond", "type": "nominal", "sort": ["DMSO -", "DMSO +", "GSK4716 10 µm -", "GSK4716 10 µm +"], "title": "RankL"},
                         "y": {"field": "y", "type": "quantitative", "title": "Relative expression to Gapdh"},
                         "text": {"field": "t"}
                       }}
                    ]}
                  ]
                },
                {
                  "width": 150, "height": 152,
                  "title": {"text": "Sox8", "offset": 4, "dx": 6},
                  "resolve": {"scale": {"x": "independent"}, "axis": {"x": "independent"}},
                  "layer": [
                    {"data": {"values": [{"g": "DMSO"}, {"g": "GSK4716 10 µm"}]},
                     "mark": {"type": "point", "opacity": 0},
                     "encoding": {"x": {"field": "g", "type": "nominal", "axis": {"orient": "bottom", "offset": 26, "domain": false, "ticks": false, "title": null, "labelFontSize": 12, "labelPadding": 3}}}},
                    {"layer": [
                      {"data": {"name": "bars"}, "transform": [{"filter": "datum.p === 'C2'"}],
                       "mark": {"type": "bar", "fill": "#8f8f8f", "stroke": "#1a1a1a", "strokeWidth": 2.5},
                       "encoding": {
                         "x": {"field": "cond", "type": "nominal", "sort": ["DMSO -", "DMSO +", "GSK4716 10 µm -", "GSK4716 10 µm +"], "scale": {"paddingInner": 0.43, "paddingOuter": 0.26}, "axis": {"orient": "bottom", "title": "RankL", "titleX": 12, "titleY": 14, "titleAlign": "right", "titleBaseline": "middle", "titleAngle": 0, "titleFontSize": 12, "labelExpr": "slice(datum.label, -1)", "labelFontSize": 13, "labelPadding": 2}},
                         "y": {"field": "mean", "type": "quantitative", "scale": {"domain": [0, 15], "nice": false}, "axis": {"values": [0, 5, 10, 15], "tickCount": 12, "labelOverlap": false, "labelFontSize": 12, "title": null}}
                       }},
                      {"data": {"name": "bars"}, "transform": [{"filter": "datum.p === 'C2'"}],
                       "mark": {"type": "errorbar", "ticks": {"size": 11, "color": "#111111", "thickness": 1.5}, "rule": {"color": "#111111", "strokeWidth": 1.5}},
                       "encoding": {
                         "x": {"field": "cond", "type": "nominal", "sort": ["DMSO -", "DMSO +", "GSK4716 10 µm -", "GSK4716 10 µm +"]},
                         "y": {"field": "lo", "type": "quantitative"}, "y2": {"field": "hi"}
                       }},
                      {"data": {"name": "pts"}, "transform": [{"filter": "datum.p === 'C2'"}],
                       "mark": {"type": "circle", "size": 36, "color": "#111111", "opacity": 1},
                       "encoding": {
                         "x": {"field": "cond", "type": "nominal", "sort": ["DMSO -", "DMSO +", "GSK4716 10 µm -", "GSK4716 10 µm +"]},
                         "xOffset": {"field": "rep", "type": "nominal", "scale": {"paddingInner": 0.79, "paddingOuter": 0}},
                         "y": {"field": "v", "type": "quantitative"}
                       }},
                      {"data": {"name": "brk"}, "transform": [{"filter": "datum.p === 'C2'"}],
                       "mark": {"type": "line", "color": "#222222", "strokeWidth": 2},
                       "encoding": {
                         "x": {"field": "cond", "type": "nominal", "sort": ["DMSO -", "DMSO +", "GSK4716 10 µm -", "GSK4716 10 µm +"]},
                         "y": {"field": "y", "type": "quantitative"},
                         "order": {"field": "k"}
                       }},
                      {"data": {"name": "sig"}, "transform": [{"filter": "datum.p === 'C2'"}],
                       "mark": {"type": "text", "fontSize": 13, "font": "Liberation Sans", "baseline": "middle", "color": "#111111"},
                       "encoding": {
                         "x": {"field": "cond", "type": "nominal", "sort": ["DMSO -", "DMSO +", "GSK4716 10 µm -", "GSK4716 10 µm +"]},
                         "y": {"field": "y", "type": "quantitative"},
                         "text": {"field": "t"}
                       }}
                    ]}
                  ]
                },
                {
                  "width": 150, "height": 152,
                  "title": {"text": "Gp2", "offset": 4, "dx": 6},
                  "resolve": {"scale": {"x": "independent"}, "axis": {"x": "independent"}},
                  "layer": [
                    {"data": {"values": [{"g": "DMSO"}, {"g": "GSK4716 10 µm"}]},
                     "mark": {"type": "point", "opacity": 0},
                     "encoding": {"x": {"field": "g", "type": "nominal", "axis": {"orient": "bottom", "offset": 26, "domain": false, "ticks": false, "title": null, "labelFontSize": 12, "labelPadding": 3}}}},
                    {"layer": [
                      {"data": {"name": "bars"}, "transform": [{"filter": "datum.p === 'C3'"}],
                       "mark": {"type": "bar", "fill": "#8f8f8f", "stroke": "#1a1a1a", "strokeWidth": 2.5},
                       "encoding": {
                         "x": {"field": "cond", "type": "nominal", "sort": ["DMSO -", "DMSO +", "GSK4716 10 µm -", "GSK4716 10 µm +"], "scale": {"paddingInner": 0.43, "paddingOuter": 0.26}, "axis": {"orient": "bottom", "title": "RankL", "titleX": 12, "titleY": 14, "titleAlign": "right", "titleBaseline": "middle", "titleAngle": 0, "titleFontSize": 12, "labelExpr": "slice(datum.label, -1)", "labelFontSize": 13, "labelPadding": 2}},
                         "y": {"field": "mean", "type": "quantitative", "scale": {"domain": [0, 15], "nice": false}, "axis": {"values": [0, 5, 10, 15], "tickCount": 12, "labelOverlap": false, "labelFontSize": 12, "title": null}}
                       }},
                      {"data": {"name": "bars"}, "transform": [{"filter": "datum.p === 'C3'"}],
                       "mark": {"type": "errorbar", "ticks": {"size": 11, "color": "#111111", "thickness": 1.5}, "rule": {"color": "#111111", "strokeWidth": 1.5}},
                       "encoding": {
                         "x": {"field": "cond", "type": "nominal", "sort": ["DMSO -", "DMSO +", "GSK4716 10 µm -", "GSK4716 10 µm +"]},
                         "y": {"field": "lo", "type": "quantitative"}, "y2": {"field": "hi"}
                       }},
                      {"data": {"name": "pts"}, "transform": [{"filter": "datum.p === 'C3'"}],
                       "mark": {"type": "circle", "size": 36, "color": "#111111", "opacity": 1},
                       "encoding": {
                         "x": {"field": "cond", "type": "nominal", "sort": ["DMSO -", "DMSO +", "GSK4716 10 µm -", "GSK4716 10 µm +"]},
                         "xOffset": {"field": "rep", "type": "nominal", "scale": {"paddingInner": 0.79, "paddingOuter": 0}},
                         "y": {"field": "v", "type": "quantitative"}
                       }},
                      {"data": {"name": "brk"}, "transform": [{"filter": "datum.p === 'C3'"}],
                       "mark": {"type": "line", "color": "#222222", "strokeWidth": 2},
                       "encoding": {
                         "x": {"field": "cond", "type": "nominal", "sort": ["DMSO -", "DMSO +", "GSK4716 10 µm -", "GSK4716 10 µm +"]},
                         "y": {"field": "y", "type": "quantitative"},
                         "order": {"field": "k"}
                       }},
                      {"data": {"name": "sig"}, "transform": [{"filter": "datum.p === 'C3'"}],
                       "mark": {"type": "text", "fontSize": 18, "font": "Liberation Sans", "baseline": "middle", "color": "#111111"},
                       "encoding": {
                         "x": {"field": "cond", "type": "nominal", "sort": ["DMSO -", "DMSO +", "GSK4716 10 µm -", "GSK4716 10 µm +"]},
                         "y": {"field": "y", "type": "quantitative"},
                         "text": {"field": "t"}
                       }}
                    ]}
                  ]
                }
              ]
            }
          ]
        }
      ]
    }
  ]
}
